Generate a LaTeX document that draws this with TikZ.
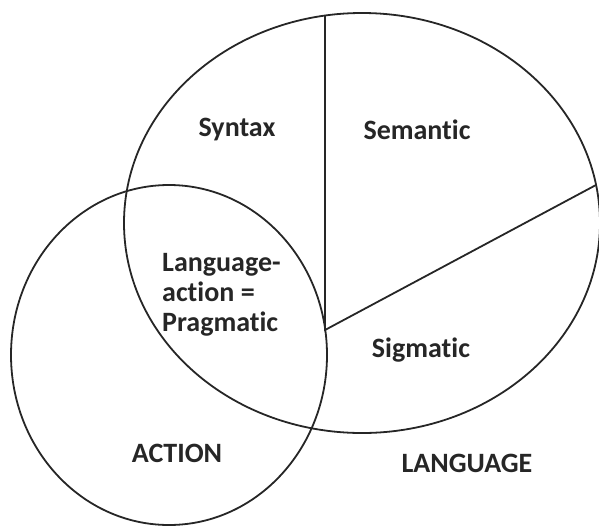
\documentclass[tikz,border=0pt]{standalone}
\usepackage{fontspec}
\setmainfont{Carlito}[Ligatures={NoCommon}]
\usetikzlibrary{shapes.geometric}
\begin{document}
\begin{tikzpicture}[x=1pt,y=-1pt,
  outline/.style={ellipse, draw=black!85, line width=1.8pt, inner sep=0pt},
  divider/.style={draw=black!85, line width=1.8pt},
  lbl/.style={font=\bfseries\fontsize{28}{30}\selectfont, text=black!85, inner sep=0pt}]
\useasboundingbox (0,0) rectangle (599,528);
\node[outline, minimum width=476pt, minimum height=420pt] (lang) at (362,223) {};
\node[outline, minimum width=316pt, minimum height=340pt] (act) at (169,355) {};
\coordinate (top) at (325,15.5);
\coordinate (mid) at (325,330);
\coordinate (rgt) at (596,185);
\draw[divider] (top) -- (mid) -- (rgt);
\node[lbl] (syn) at (237,130) {Syntax};
\node[lbl] (sem) at (417,130) {Semantic};
\node[lbl, align=left, anchor=west] (prag) at (162,295) {Language-\\action =\\Pragmatic};
\node[lbl] (sig) at (421,350) {Sigmatic};
\node[lbl] (action) at (177,453) {ACTION};
\node[lbl] (language) at (467,463) {LANGUAGE};
\end{tikzpicture}
\end{document}
